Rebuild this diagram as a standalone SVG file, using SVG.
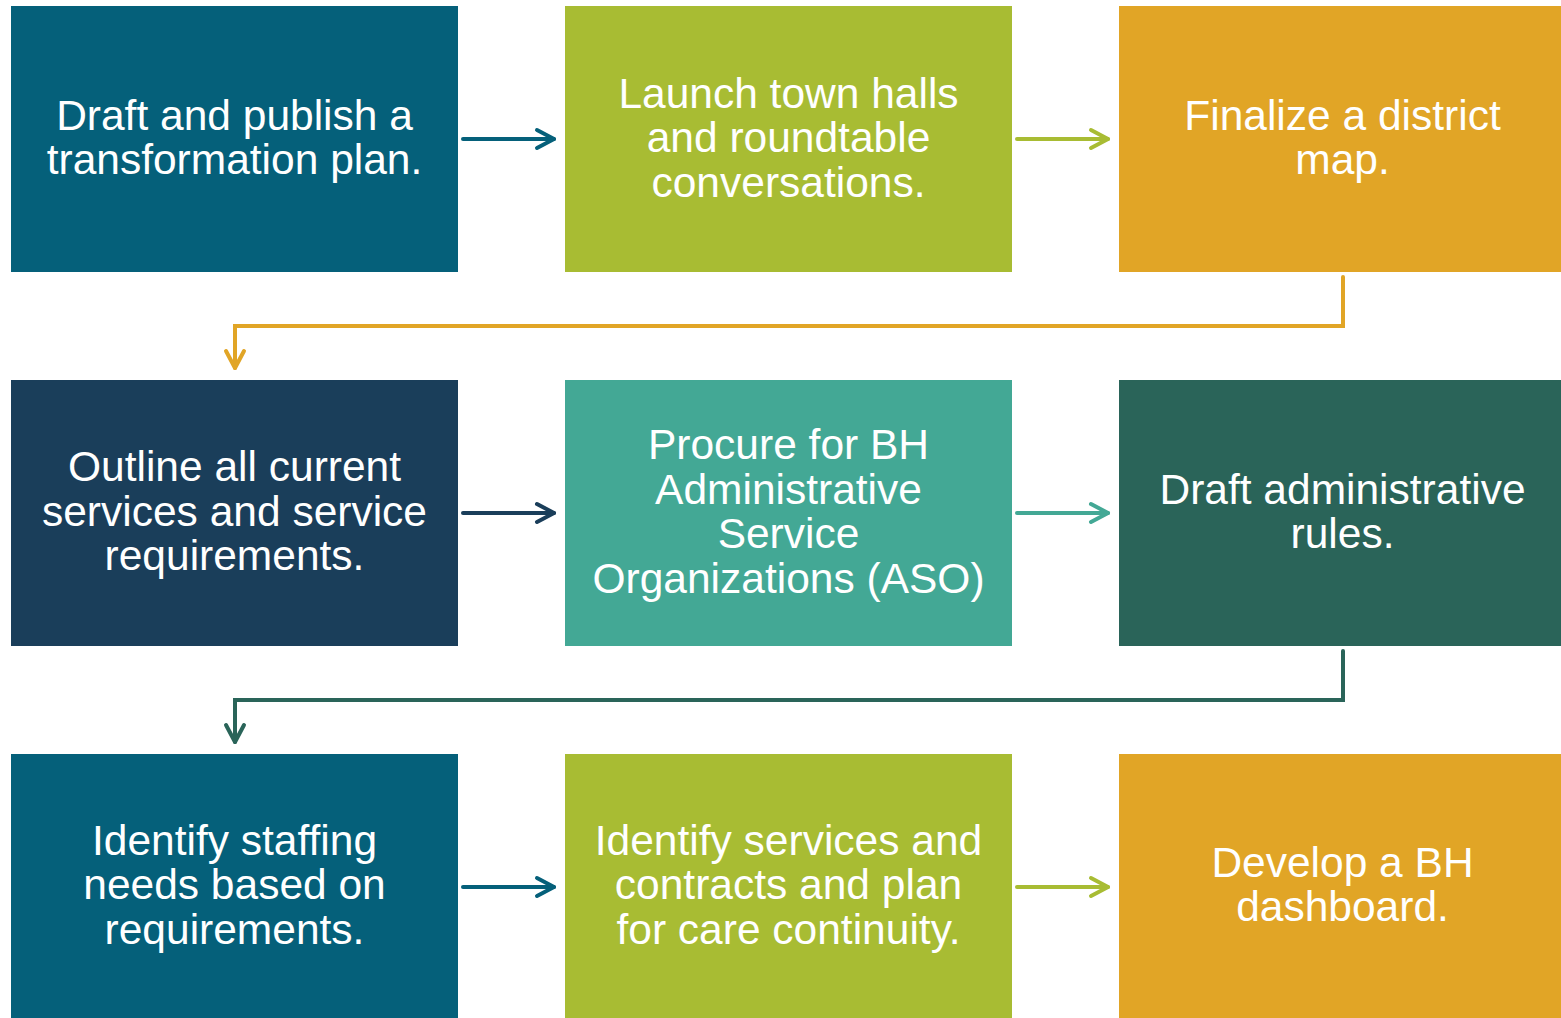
<svg xmlns="http://www.w3.org/2000/svg" width="1561" height="1018" viewBox="0 0 1561 1018">
<style>
.t{font-family:"Liberation Sans",Arial,sans-serif;font-size:42.5px;fill:#ffffff;text-anchor:middle}
.c{fill:none;stroke-width:4;stroke-linecap:round;stroke-linejoin:miter}
.h{fill:none;stroke-width:4;stroke-linecap:round;stroke-linejoin:round}
</style>
<rect width="1561" height="1018" fill="#ffffff"/>
<g id="n1"><rect x="11" y="6" width="447" height="266" fill="#05607A"/>
<text class="t" x="234.5"><tspan x="234.5" y="130">Draft and publish a</tspan><tspan x="234.5" y="174">transformation plan.</tspan></text></g>
<g id="n2"><rect x="565" y="6" width="447" height="266" fill="#A8BC33"/>
<text class="t"><tspan x="788.5" y="108">Launch town halls</tspan><tspan x="788.5" y="152">and roundtable</tspan><tspan x="788.5" y="197">conversations.</tspan></text></g>
<g id="n3"><rect x="1119" y="6" width="447" height="266" fill="#E1A526"/>
<text class="t"><tspan x="1342.5" y="130">Finalize a district</tspan><tspan x="1342.5" y="174">map.</tspan></text></g>
<g id="n4"><rect x="11" y="380" width="447" height="266" fill="#1A3E5A"/>
<text class="t"><tspan x="234.5" y="481">Outline all current</tspan><tspan x="234.5" y="526">services and service</tspan><tspan x="234.5" y="570">requirements.</tspan></text></g>
<g id="n5"><rect x="565" y="380" width="447" height="266" fill="#43A895"/>
<text class="t"><tspan x="788.5" y="459">Procure for BH</tspan><tspan x="788.5" y="504">Administrative</tspan><tspan x="788.5" y="548">Service</tspan><tspan x="788.5" y="593">Organizations (ASO)</tspan></text></g>
<g id="n6"><rect x="1119" y="380" width="447" height="266" fill="#2A6459"/>
<text class="t"><tspan x="1342.5" y="504">Draft administrative</tspan><tspan x="1342.5" y="548">rules.</tspan></text></g>
<g id="n7"><rect x="11" y="754" width="447" height="264" fill="#05607A"/>
<text class="t"><tspan x="234.5" y="855">Identify staffing</tspan><tspan x="234.5" y="899">needs based on</tspan><tspan x="234.5" y="944">requirements.</tspan></text></g>
<g id="n8"><rect x="565" y="754" width="447" height="264" fill="#A8BC33"/>
<text class="t"><tspan x="788.5" y="855">Identify services and</tspan><tspan x="788.5" y="899">contracts and plan</tspan><tspan x="788.5" y="944">for care continuity.</tspan></text></g>
<g id="n9"><rect x="1119" y="754" width="447" height="264" fill="#E1A526"/>
<text class="t"><tspan x="1342.5" y="877">Develop a BH</tspan><tspan x="1342.5" y="921">dashboard.</tspan></text></g>
<g id="connectors">
<g stroke="#05607A"><path class="c" d="M463 139H554"/><path class="h" d="M537 130L554 139L537 148"/></g>
<g stroke="#A8BC33"><path class="c" d="M1017 139H1108"/><path class="h" d="M1091 130L1108 139L1091 148"/></g>
<g stroke="#E1A526"><path class="c" d="M1343 277V326H235V368"/><path class="h" d="M226 351L235 368L244 351"/></g>
<g stroke="#1A3E5A"><path class="c" d="M463 513H554"/><path class="h" d="M537 504L554 513L537 522"/></g>
<g stroke="#43A895"><path class="c" d="M1017 513H1108"/><path class="h" d="M1091 504L1108 513L1091 522"/></g>
<g stroke="#2A6459"><path class="c" d="M1343 651V700H235V742"/><path class="h" d="M226 725L235 742L244 725"/></g>
<g stroke="#05607A"><path class="c" d="M463 887H554"/><path class="h" d="M537 878L554 887L537 896"/></g>
<g stroke="#A8BC33"><path class="c" d="M1017 887H1108"/><path class="h" d="M1091 878L1108 887L1091 896"/></g>
</g>
</svg>
